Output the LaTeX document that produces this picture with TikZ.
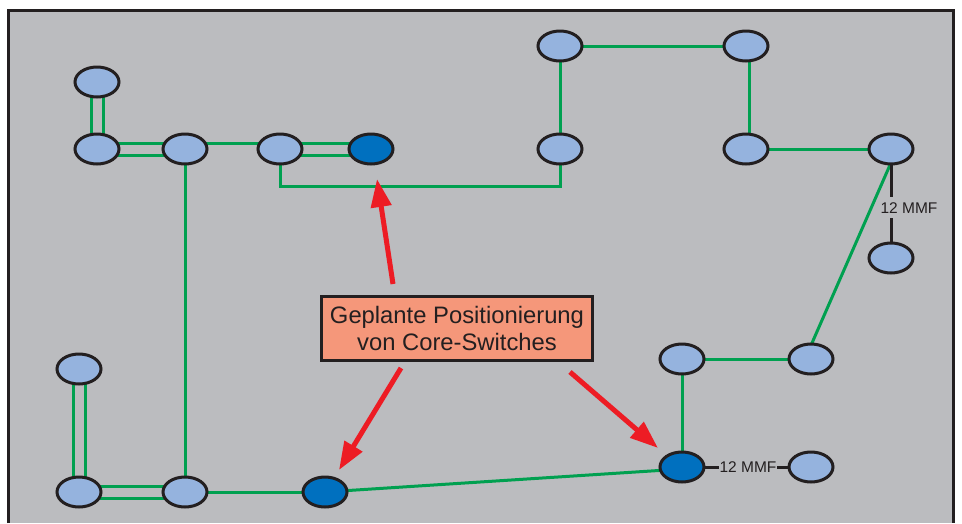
\documentclass[tikz,border=0pt]{standalone}
\usepackage{fontspec}
\setmainfont{Liberation Sans}
\usetikzlibrary{shapes.geometric,arrows.meta,calc}
\pgfdeclarelayer{bg}
\pgfdeclarelayer{edges}
\pgfsetlayers{bg,edges,main}
\definecolor{bggray}{HTML}{BBBCBF}
\definecolor{swblue}{HTML}{95B3DE}
\definecolor{coreblue}{HTML}{0070BF}
\definecolor{linkgreen}{HTML}{00A050}
\definecolor{arrred}{HTML}{ED1C24}
\definecolor{salmon}{HTML}{F5977A}
\definecolor{ink}{HTML}{231F20}
\tikzset{
  sw/.style={ellipse, draw=ink, line width=3pt, fill=swblue, minimum width=44pt, minimum height=30pt, inner sep=0pt},
  core/.style={sw, fill=coreblue},
  link/.style={draw=linkgreen, line width=3pt},
  mmf/.style={draw=ink, line width=3pt},
  mmflabel/.style={fill=bggray, text=ink, font=\fontsize{15.5}{17}\selectfont, inner xsep=0.5pt, inner ysep=5pt},
  callout/.style={draw=ink, line width=3pt, fill=salmon, text=ink, align=center, minimum width=271pt, minimum height=64pt, font=\fontsize{23.8}{27}\selectfont, inner sep=0pt},
  redarrow/.style={draw=arrred, line width=5pt, -{Triangle[length=28pt,width=20pt]}}
}
\begin{document}
\begin{tikzpicture}[x=1pt,y=-1pt]
\useasboundingbox (0,0) rectangle (962,523);
\begin{pgfonlayer}{bg}
  \fill[bggray] (8,10) rectangle (953,523);
  \draw[ink, line width=3pt] (8,523) -- (8,10) -- (953,10) -- (953,523);
\end{pgfonlayer}

% switches
\node[sw] (A) at (97,82) {};
\node[sw] (B) at (97,149) {};
\node[sw] (C) at (185,149) {};
\node[sw] (D) at (280,149) {};
\node[core] (E) at (371,149) {};
\node[sw] (F) at (560,46) {};
\node[sw] (G) at (746,46) {};
\node[sw] (H) at (560,149) {};
\node[sw] (I) at (746,149) {};
\node[sw] (J) at (891,149) {};
\node[sw] (K) at (891,258) {};
\node[sw] (L) at (79,369) {};
\node[sw] (M) at (79,492) {};
\node[sw] (N) at (185,492) {};
\node[core] (O) at (325,492) {};
\node[sw] (P) at (682,359) {};
\node[sw] (Q) at (811,359) {};
\node[core] (R) at (682,467) {};
\node[sw] (S) at (811,467) {};

\coordinate (route) at (0,186);

\begin{pgfonlayer}{edges}
  \path[link] ([xshift=-6pt]A.center) -- ([xshift=-6pt]B.center);
  \path[link] ([xshift=6pt]A.center) -- ([xshift=6pt]B.center);
  \path[link] ([yshift=6pt]B.center) -- ([yshift=6pt]C.center);
  \path[link] ([yshift=-6pt]B.center) -- ([yshift=-6pt]C.center);
  \path[link] ([yshift=6pt]C.center) -- ([yshift=6pt]D.center);
  \path[link] ([yshift=6pt]D.center) -- ([yshift=6pt]E.center);
  \path[link] ([yshift=-6pt]D.center) -- ([yshift=-6pt]E.center);
  \path[link] (D.center) -- (D.center |- route) -- (H.center |- route) -- (H.center);
  \path[link] (C.center) -- (N.center);
  \path[link] (F.center) -- (H.center);
  \path[link] (F.center) -- (G.center);
  \path[link] ([xshift=3pt]G.center) -- ([xshift=3pt]I.center);
  \path[link] (I.center) -- (J.center);
  \path[link] ([xshift=6pt]J.center) -- ([xshift=-6pt]Q.center);
  \path[link] (P.center) -- (Q.center);
  \path[link] (P.center) -- (R.center);
  \path[link] (O.center) -- ([yshift=-2pt]R.center);
  \path[link] (N.center) -- (O.center);
  \path[link] ([yshift=6pt]M.center) -- ([yshift=6pt]N.center);
  \path[link] ([yshift=-6pt]M.center) -- ([yshift=-6pt]N.center);
  \path[link] ([xshift=-6pt]L.center) -- ([xshift=-6pt]M.center);
  \path[link] ([xshift=6pt]L.center) -- ([xshift=6pt]M.center);
  \path[mmf] (J.center) -- (K.center);
  \path[mmf] (R.center) -- (S.center);
\end{pgfonlayer}

\node[mmflabel, xshift=18pt] (mmf1) at ($(J.center)!0.54!(K.center)$) {12 MMF};
\node[mmflabel] (mmf2) at (748,467) {12 MMF};

% callout
\node[callout] (box) at (457,328.5) {Geplante Positionierung\\von Core-Switches};

\coordinate (a1s) at (393,284);
\coordinate (a1t) at (377,179);
\coordinate (a2s) at (401,368);
\coordinate (a2t) at (339,470);
\coordinate (a3s) at (570,372);
\coordinate (a3t) at (658,448);
\path[redarrow] (a1s) -- (a1t);
\path[redarrow] (a2s) -- (a2t);
\path[redarrow] (a3s) -- (a3t);
\end{tikzpicture}
\end{document}
